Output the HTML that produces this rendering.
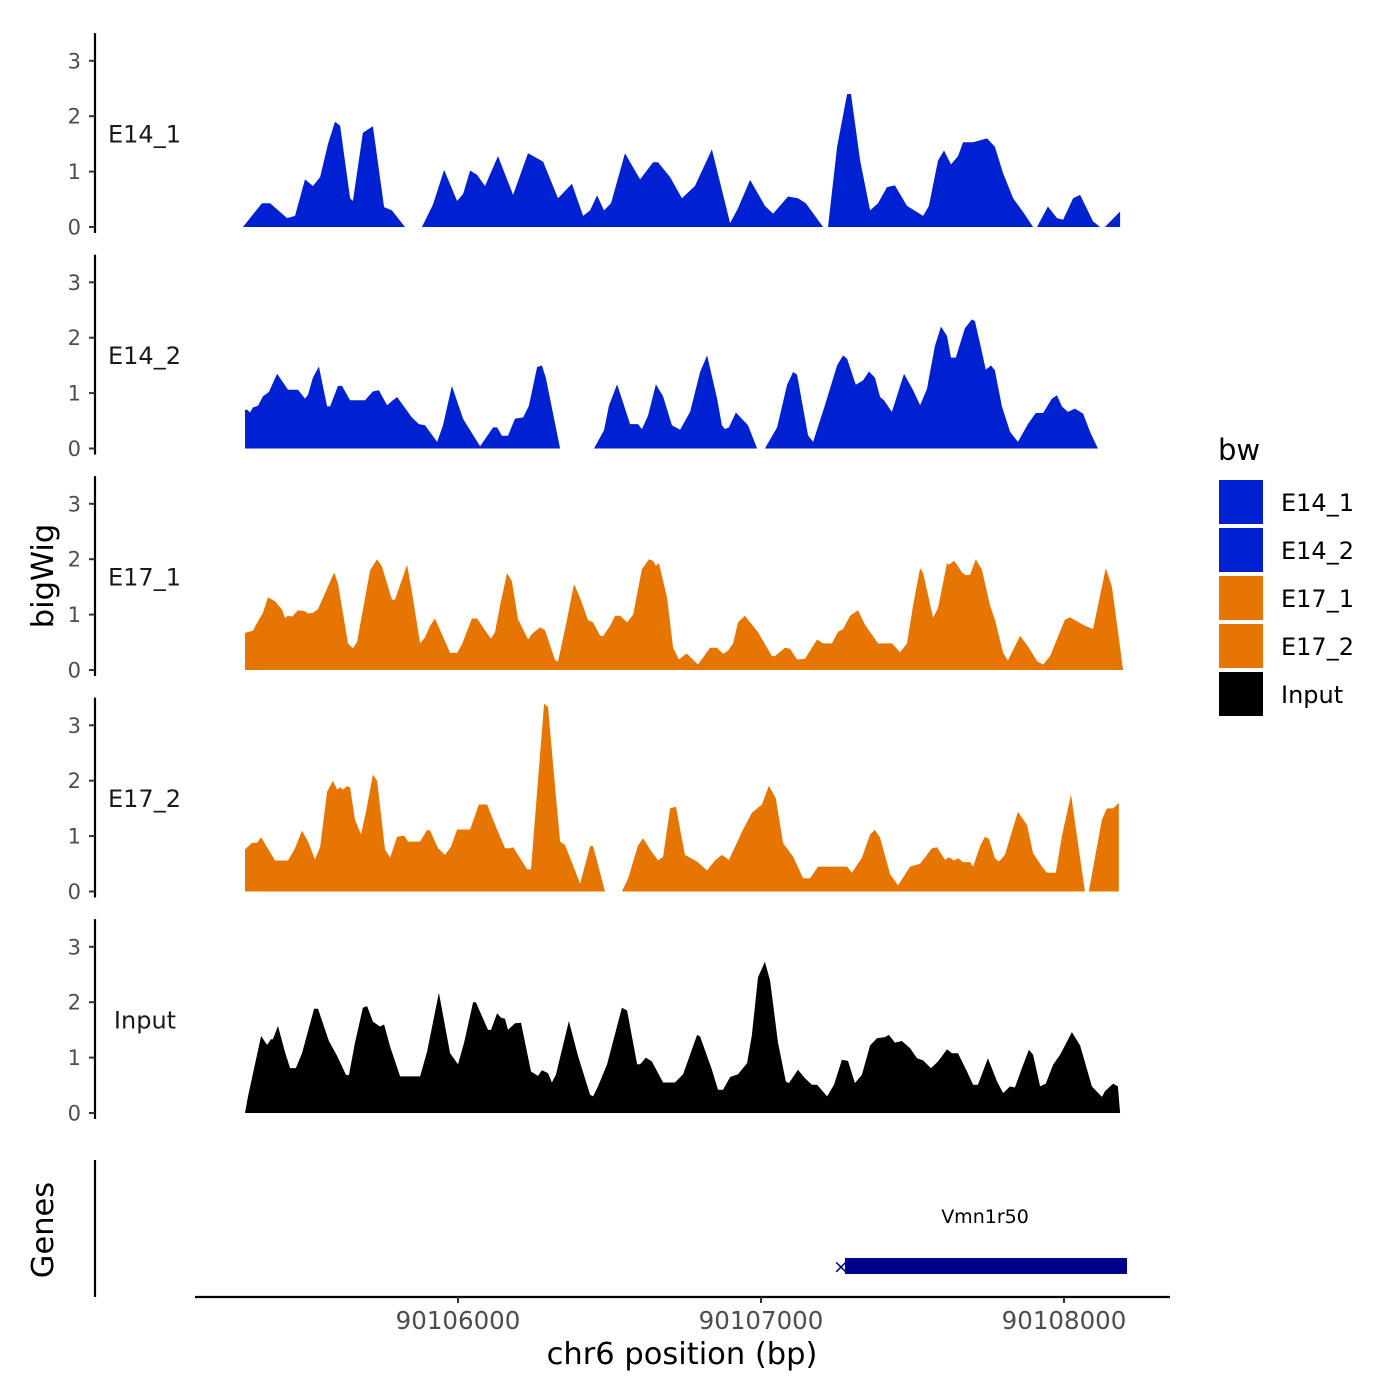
<!DOCTYPE html>
<html><head><meta charset="utf-8">
<style>
html,body{margin:0;padding:0;background:#fff;}
svg{display:block;font-family:"DejaVu Sans","Liberation Sans",sans-serif;}
</style></head>
<body>
<svg id="chart" width="1400" height="1400" viewBox="0 0 1400 1400" xmlns="http://www.w3.org/2000/svg"></svg>
<script>
// genomic offsets relative to refBp, signal values (null = gap)
const refBp = 90106000;
const xTicks = [90106000, 90107000, 90108000];
const yTicks = [0, 1, 2, 3];
const trackNames = ["E14_1", "E14_2", "E17_1", "E17_2", "Input"];
const trackColors = ["#0021D1", "#0021D1", "#E77502", "#E77502", "#000000"];

const e14_1_pos = [-710,-647,-620,-564,-538,-505,-479,-455,-429,-406,-389,-356,-347,-314,-281,-244,-218,-175,null,-119,-83,-46,-3,17,40,63,89,132,182,231,281,330,376,413,436,459,482,505,551,601,644,660,700,739,782,838,898,924,964,1013,1040,1089,1122,1148,1205,null,1221,1251,1284,1297,1327,1360,1386,1416,1442,1482,1535,1554,1584,1604,1627,1650,1667,1700,1746,1772,1799,1832,1865,1898,null,1911,1947,1977,1997,2030,2053,2096,2119,null,2135,2185];
const e14_1_val = [0,.43,.43,.16,.2,.86,.74,.9,1.5,1.9,1.83,.52,.47,1.7,1.82,.36,.3,0,null,0,.4,1.03,.47,.6,1.02,.94,.74,1.28,.58,1.33,1.18,.52,.78,.2,.3,.57,.3,.43,1.33,.86,1.17,1.17,.9,.52,.74,1.4,.07,.34,.85,.38,.24,.55,.52,.43,0,null,0,1.45,2.4,2.4,1.2,.3,.43,.72,.75,.38,.2,.38,1.2,1.38,1.13,1.28,1.53,1.53,1.6,1.45,.97,.52,.27,0,null,0,.37,.16,.13,.52,.58,.1,0,null,0,.28];

const e14_2_pos = [-703,-703,-696,-686,-677,-660,-644,-624,-597,-561,-528,-505,-495,-479,-459,-432,-422,-396,-383,-356,-307,-281,-261,-234,-215,-201,-152,-129,-109,-69,-50,-20,17,73,116,129,145,165,188,215,234,261,277,290,337,null,449,482,498,525,568,594,607,627,653,677,706,733,766,799,822,855,871,881,894,917,957,987,null,1013,1053,1086,1106,1119,1155,1172,1211,1251,1271,1284,1313,1337,1356,1376,1393,1406,1432,1472,1502,1525,1548,1574,1594,1614,1627,1643,1673,1696,1706,1723,1742,1759,1772,1795,1822,1848,1881,1907,1931,1960,1977,1993,2013,2036,2063,2086,2112];
const e14_2_val = [0,.7,.7,.65,.74,.77,.94,1.02,1.35,1.06,1.06,.9,.97,1.28,1.48,.76,.76,1.13,1.13,.87,.87,1.03,1.05,.78,.87,.93,.56,.44,.42,.12,.41,1.13,.53,.04,.38,.38,.23,.23,.54,.56,.77,1.47,1.5,1.27,0,null,0,.33,.77,1.16,.44,.44,.35,.59,1.16,.94,.42,.34,.66,1.38,1.68,.9,.42,.35,.38,.65,.42,0,null,0,.38,1.15,1.38,1.33,.24,.12,.78,1.5,1.68,1.62,1.15,1.23,1.39,1.28,.93,.87,.66,1.35,1.05,.78,1.08,1.85,2.2,2.03,1.64,1.64,2.17,2.33,2.3,1.89,1.42,1.5,1.41,.76,.3,.12,.44,.64,.64,.9,.96,.76,.66,.72,.63,.3,0];

const e17_1_pos = [-703,-703,-677,-663,-644,-627,-604,-581,-571,-561,-548,-528,-505,-495,-479,-462,-409,-396,-363,-347,-333,-290,-267,-251,-218,-208,-168,-152,-125,-109,-92,-76,-26,-3,13,46,63,96,109,122,139,162,178,198,231,244,271,287,320,330,360,383,403,429,446,469,479,502,518,535,558,578,607,630,644,653,663,690,710,729,752,756,792,832,855,875,891,908,924,947,990,1036,1046,1079,1096,1119,1145,1185,1205,1234,1254,1271,1294,1320,1343,1386,1432,1459,1482,1502,1525,1535,1568,1584,1614,1620,1637,1647,1663,1676,1690,1709,1729,1756,1772,1799,1815,1855,1884,1911,1931,1954,2003,2020,2043,2069,2096,2112,2138,2158,2168,2195];
const e17_1_val = [0,.67,.71,.85,1.03,1.31,1.24,1.09,.94,.98,.96,1.08,1.06,1.02,1.03,1.1,1.76,1.56,.48,.39,.51,1.8,2.0,1.87,1.27,1.27,1.9,1.41,.48,.59,.8,.93,.31,.31,.46,.93,.93,.66,.57,.68,1.17,1.75,1.6,.92,.55,.65,.77,.72,.18,.15,.92,1.55,1.3,.9,.86,.62,.61,.8,.98,.98,.86,1.0,1.82,2.0,1.97,1.88,1.93,1.3,.4,.19,.29,.29,.1,.4,.4,.29,.35,.48,.86,.98,.68,.25,.25,.4,.38,.19,.2,.55,.48,.48,.69,.74,.98,1.08,.82,.48,.48,.32,.48,1.17,1.84,1.75,.94,1.12,1.93,1.9,1.97,1.9,1.76,1.71,1.72,2.0,1.81,1.16,.91,.31,.17,.62,.4,.16,.1,.25,.91,.95,.88,.8,.74,1.16,1.84,1.5,1.11,0];

const e17_2_pos = [-703,-703,-680,-663,-650,-630,-604,-561,-538,-515,-495,-472,-455,-432,-413,-399,-389,-380,-366,-356,-340,-320,-304,-281,-267,-241,-224,-201,-178,-165,-125,-102,-92,-66,-43,-23,-3,40,69,96,125,155,172,182,228,241,261,284,297,320,337,353,380,403,436,446,485,null,541,561,594,611,634,660,677,700,719,749,789,822,848,871,894,940,970,1003,1026,1049,1073,1106,1139,1162,1188,1284,1300,1333,1360,1376,1393,1426,1452,1492,1525,1564,1581,1607,1620,1637,1650,1667,1690,1700,1723,1739,1752,1772,1785,1805,1848,1878,1898,1927,1944,1973,1993,2023,2069,null,2082,2125,2142,2162,2181];
const e17_2_val = [0,.76,.88,.88,.98,.8,.56,.56,.78,1.1,.9,.58,.8,1.8,2.0,1.84,1.88,1.84,1.9,1.88,1.29,1.03,1.43,2.11,2.0,.76,.61,.99,1.01,.9,.9,1.11,1.1,.78,.66,.81,1.12,1.12,1.57,1.57,1.17,.78,.78,.8,.4,.4,1.8,3.39,3.33,1.9,.9,.84,.47,.14,.82,.82,0,null,0,.23,.83,.96,.76,.56,.63,1.5,1.53,.66,.54,.38,.56,.66,.57,1.11,1.42,1.57,1.91,1.68,.87,.63,.24,.24,.45,.45,.34,.61,1.03,1.11,.97,.31,.11,.45,.5,.78,.8,.57,.62,.56,.6,.53,.53,.45,.82,.99,.95,.6,.54,.66,1.44,1.2,.69,.45,.34,.34,1.0,1.75,0,null,0,1.3,1.5,1.5,1.6];

const input_pos = [-703,-693,-650,-630,-617,-611,-594,-571,-554,-535,-515,-475,-462,-426,-399,-370,-360,-340,-314,-300,-281,-257,-244,-224,-191,-165,-125,-102,-63,-26,0,20,50,59,99,109,129,142,155,165,188,208,241,264,277,297,310,323,366,396,436,446,462,492,541,558,591,601,620,640,677,716,743,789,799,838,858,875,898,924,954,970,990,1013,1030,1056,1082,1092,1122,1145,1168,1185,1218,1241,1267,1287,1310,1333,1360,1383,1409,1422,1442,1465,1492,1515,1535,1561,1584,1614,1630,1650,1680,1700,1716,1749,1779,1799,1822,1838,1861,1884,1898,1921,1940,1964,1987,2026,2053,2092,2125,2135,2162,2178,2185];
const input_val = [0,.3,1.39,1.23,1.33,1.33,1.57,1.1,.81,.81,1.08,1.88,1.88,1.3,1.03,.69,.68,1.27,1.9,1.93,1.65,1.56,1.6,1.2,.66,.66,.66,1.11,2.17,1.08,.88,1.27,2.0,2.0,1.5,1.5,1.8,1.72,1.7,1.5,1.62,1.63,.75,.67,.77,.72,.55,.69,1.66,1.03,.33,.3,.48,.88,1.9,1.85,.88,.88,1.0,.93,.55,.55,.7,1.41,1.38,.78,.42,.42,.65,.7,.9,1.41,2.45,2.73,2.39,1.27,.57,.54,.78,.63,.51,.51,.3,.51,.96,.94,.54,.69,1.22,1.35,1.37,1.41,1.27,1.3,1.17,.99,.95,.81,.93,1.15,1.08,1.08,.75,.51,.51,.99,.57,.36,.48,.46,.81,1.14,1.05,.48,.53,.87,1.05,1.46,1.22,.48,.29,.39,.53,.48,0];

const trackPos = [e14_1_pos, e14_2_pos, e17_1_pos, e17_2_pos, input_pos];
const trackVal = [e14_1_val, e14_2_val, e17_1_val, e17_2_val, input_val];
const geneName = "Vmn1r50";
const geneStart = 90107277;
const geneEnd = 90108208;

const NS = "http://www.w3.org/2000/svg";
const svg = document.getElementById("chart");
const xPx = bp => 458 + (bp - 90106000) * 0.303;
const panelBase = i => 227 + i * 221.5;
const yPx = (i, v) => panelBase(i) - v * 55.4;

function mk(tag, attrs, parent) {
  const el = document.createElementNS(NS, tag);
  for (const k in attrs) el.setAttribute(k, attrs[k]);
  (parent || svg).appendChild(el);
  return el;
}

trackNames.forEach((name, i) => {
  const g = mk("g", {});
  
  
  const base = panelBase(i);
  const ax = mk("line", {x1: 95, x2: 95, y1: yPx(i, 3.5), y2: base + 6, stroke: "#000", "stroke-width": 2.2}, g);
  
  
  yTicks.forEach(t => {
    mk("line", {x1: 89, x2: 95, y1: yPx(i, t), y2: yPx(i, t), stroke: "#333", "stroke-width": 2}, g);
    const tl = mk("text", {x: 81, y: yPx(i, t) + 7.5, "text-anchor": "end", "font-size": 21, fill: "#4D4D4D"}, g);
    tl.textContent = t;
    
    
  });
  const P = trackPos[i], V = trackVal[i];
  let seg = [];
  const flush = () => {
    if (seg.length > 1) {
      let d = "M" + seg[0][0].toFixed(1) + "," + base;
      seg.forEach(p => d += "L" + p[0].toFixed(1) + "," + p[1].toFixed(1));
      d += "L" + seg[seg.length - 1][0].toFixed(1) + "," + base + "Z";
      const a = mk("path", {d: d, fill: trackColors[i]}, g);
      
      
    }
    seg = [];
  };
  for (let k = 0; k < P.length; k++) {
    if (P[k] === null || V[k] === null) { flush(); continue; }
    seg.push([xPx(refBp + P[k]), yPx(i, V[k])]);
  }
  flush();
  const lb = mk("text", {x: name === "Input" ? 145 : 108, y: yPx(i, 1.68) + 8.5, "text-anchor": name === "Input" ? "middle" : "start", "font-size": 24, fill: "#1a1a1a"}, g);
  lb.textContent = name;
  
  
});

// gene track
const gAx = mk("line", {x1: 95, x2: 95, y1: 1160, y2: 1297, stroke: "#000", "stroke-width": 2.2});


const gb = mk("rect", {x: xPx(geneStart), y: 1258, width: xPx(geneEnd) - xPx(geneStart), height: 16, fill: "#00008B"});


const gs = mk("text", {x: xPx(geneStart) - 4, y: 1273, "text-anchor": "middle", "font-size": 19, fill: "#00008B"});
gs.textContent = "×";


const gl = mk("text", {x: 985, y: 1223, "text-anchor": "middle", "font-size": 19, fill: "#000"});
gl.textContent = geneName;



// x axis
const xa = mk("line", {x1: 195, x2: 1170, y1: 1297, y2: 1297, stroke: "#000", "stroke-width": 2.2});


xTicks.forEach(t => {
  mk("line", {x1: xPx(t), x2: xPx(t), y1: 1297, y2: 1303, stroke: "#333", "stroke-width": 2});
  const tl = mk("text", {x: xPx(t), y: 1329, "text-anchor": "middle", "font-size": 24.5, fill: "#4D4D4D"});
  tl.textContent = t;
  
  
});
const xt = mk("text", {x: 682, y: 1364, "text-anchor": "middle", "font-size": 30.5, fill: "#000"});
xt.textContent = "chr6 position (bp)";


const yt = mk("text", {x: 0, y: 0, "text-anchor": "middle", "font-size": 30.5, fill: "#000", transform: "translate(53,576) rotate(-90)"});
yt.textContent = "bigWig";


const gt = mk("text", {x: 0, y: 0, "text-anchor": "middle", "font-size": 30.5, fill: "#000", transform: "translate(53,1230) rotate(-90)"});
gt.textContent = "Genes";



// legend
const lg = mk("g", {});


const lt = mk("text", {x: 1218, y: 460, "font-size": 29, fill: "#000"}, lg);
lt.textContent = "bw";


trackNames.forEach((name, i) => {
  const y = 480 + i * 48;
  const r = mk("rect", {x: 1219, y: y, width: 44, height: 44, fill: trackColors[i]}, lg);
  
  
  const t = mk("text", {x: 1281, y: y + 31, "font-size": 24, fill: "#000"}, lg);
  t.textContent = name;
  
  
});
</script>
</body></html>
